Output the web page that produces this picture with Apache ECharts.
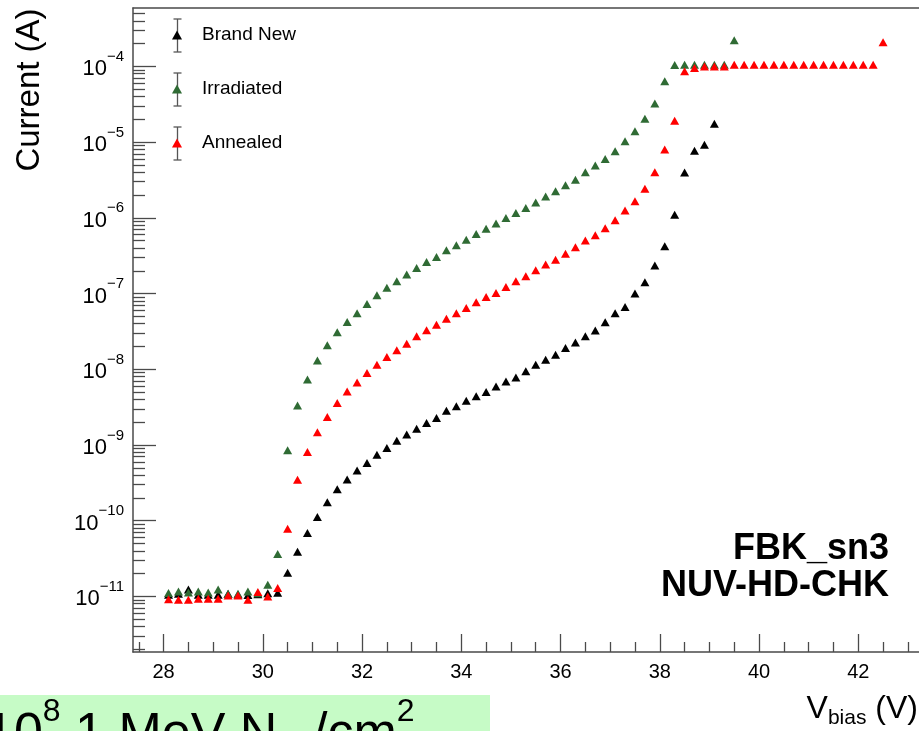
<!DOCTYPE html>
<html><head><meta charset="utf-8">
<script src="https://cdn.jsdelivr.net/npm/echarts@6/dist/echarts.min.js"></script>
<style>html,body{margin:0;padding:0;background:#fff}#c{width:919px;height:731px}</style>
</head><body><div id="c"></div>
<script>
// ---- data (bias voltage in V, current in A) ----
const voltages = [28.1,28.3,28.5,28.7,28.9,29.1,29.3,29.5,29.7,29.9,30.1,30.3,30.5,30.7,30.9,31.1,31.3,31.5,31.7,31.9,
  32.1,32.3,32.5,32.7,32.9,33.1,33.3,33.5,33.7,33.9,34.1,34.3,34.5,34.7,34.9,35.1,35.3,35.5,35.7,35.9,
  36.1,36.3,36.5,36.7,36.9,37.1,37.3,37.5,37.7,37.9,38.1,38.3,38.5,38.7,38.9,39.1,39.3,39.5,39.7,39.9,
  40.1,40.3,40.5,40.7,40.9,41.1,41.3,41.5,41.7,41.9,42.1,42.3,42.5];
const brandNew = [1.05e-11,1.08e-11,1.23e-11,1.05e-11,1.05e-11,1.05e-11,1.08e-11,1.06e-11,1.04e-11,1.07e-11,1.10e-11,1.12e-11,
  2.06e-11,3.9e-11,6.9e-11,1.12e-10,1.75e-10,2.6e-10,3.5e-10,4.6e-10,5.8e-10,7.4e-10,9.1e-10,1.14e-9,1.37e-9,1.64e-9,1.95e-9,
  2.27e-9,2.84e-9,3.24e-9,3.85e-9,4.39e-9,5.0e-9,5.9e-9,6.9e-9,7.8e-9,9.4e-9,1.15e-8,1.34e-8,1.56e-8,1.91e-8,2.26e-8,2.72e-8,
  3.24e-8,4.17e-8,5.5e-8,6.65e-8,9.98e-8,1.41e-7,2.34e-7,4.2e-7,1.10e-6,3.98e-6,7.7e-6,9.2e-6,1.75e-5];
const irradiated = [1.11e-11,1.16e-11,1.13e-11,1.16e-11,1.13e-11,1.23e-11,1.08e-11,1.08e-11,1.16e-11,1.10e-11,1.43e-11,3.63e-11,
  8.5e-10,3.33e-9,7.3e-9,1.31e-8,2.07e-8,3.08e-8,4.22e-8,5.5e-8,7.3e-8,9.5e-8,1.19e-7,1.45e-7,1.78e-7,2.18e-7,2.61e-7,3.04e-7,
  3.72e-7,4.33e-7,5.15e-7,6.1e-7,7.2e-7,8.4e-7,9.97e-7,1.16e-6,1.35e-6,1.60e-6,1.92e-6,2.24e-6,2.69e-6,3.19e-6,3.99e-6,4.9e-6,
  6.0e-6,7.6e-6,1.03e-5,1.39e-5,2.04e-5,3.23e-5,6.35e-5,1.04e-4,1.05e-4,1.05e-4,1.05e-4,1.05e-4,1.05e-4,2.21e-4];
const annealed = [9.2e-12,9.0e-12,9.0e-12,9.3e-12,9.3e-12,9.3e-12,1.03e-11,1.03e-11,9.0e-12,1.14e-11,1.0e-11,1.29e-11,
  7.8e-11,3.48e-10,8.1e-10,1.47e-9,2.34e-9,3.59e-9,5.1e-9,6.7e-9,8.9e-9,1.15e-8,1.45e-8,1.78e-8,2.18e-8,2.72e-8,3.27e-8,3.88e-8,
  4.66e-8,5.5e-8,6.45e-8,7.66e-8,9.0e-8,1.02e-7,1.22e-7,1.45e-7,1.69e-7,2.03e-7,2.41e-7,2.8e-7,3.36e-7,4.1e-7,5.0e-7,5.9e-7,
  7.3e-7,9.3e-7,1.25e-6,1.65e-6,2.43e-6,3.99e-6,7.96e-6,1.92e-5,8.6e-5,9.55e-5,1.0e-4,1.0e-4,1.0e-4,1.05e-4,
  1.05e-4,1.05e-4,1.05e-4,1.05e-4,1.05e-4,1.05e-4,1.05e-4,1.05e-4,1.05e-4,1.05e-4,1.05e-4,1.05e-4,1.05e-4,1.05e-4,2.08e-4];
const seriesNames = ['Brand New', 'Irradiated', 'Annealed'];
const seriesColors = ['#000000', '#2f6b34', '#ff0000'];
const xMajorTicks = [28, 30, 32, 34, 36, 38, 40, 42];
const xMinorTicks = [27.5,28.5,29,29.5,30.5,31,31.5,32.5,33,33.5,34.5,35,35.5,36.5,37,37.5,38.5,39,39.5,40.5,41,41.5,42.5,43];
const yDecades = [-11, -10, -9, -8, -7, -6, -5, -4];
const deviceLabel = ['FBK_sn3', 'NUV-HD-CHK'];

// ---- layout / style ----
const FONT = '"Liberation Sans", Arial, Helvetica, sans-serif';
const X_MIN = 27.384, X_MAX = 43.224;
const Y_MIN_EXP = -11.7344, Y_MAX_EXP = -3.2286;
const AX = '#4a4a4a';

const yMinorTicks = [];
for (let n = -12; n <= -3; n++) for (let k = 2; k <= 9; k++) {
  const v = n + Math.log10(k);
  if (v > Y_MIN_EXP && v < Y_MAX_EXP) yMinorTicks.push(v);
}

const allSeries = [brandNew, irradiated, annealed];
const series = allSeries.map((vals, i) => ({
  name: seriesNames[i], type: 'scatter', xAxisIndex: 0, yAxisIndex: 0,
  symbol: 'triangle', symbolSize: [9, 8],
  itemStyle: { color: seriesColors[i], opacity: 1 },
  data: vals.map((c, j) => [voltages[j], c])
}));

const legendRows = [35, 89, 143];
const graphic = [];
legendRows.forEach(yc => {
  graphic.push({ type: 'line', z: 1, shape: { x1: 177.5, y1: yc - 16, x2: 177.5, y2: yc + 17 }, style: { stroke: '#555', lineWidth: 1.3 } });
  graphic.push({ type: 'line', z: 1, shape: { x1: 173.5, y1: yc - 16, x2: 181.5, y2: yc - 16 }, style: { stroke: '#555', lineWidth: 1.3 } });
  graphic.push({ type: 'line', z: 1, shape: { x1: 173.5, y1: yc + 17, x2: 181.5, y2: yc + 17 }, style: { stroke: '#555', lineWidth: 1.3 } });
});
graphic.push({ type: 'text', x: 30, y: 90, rotation: Math.PI / 2,
  style: { text: 'Current (A)', font: '33px ' + FONT, fill: '#000', align: 'center', verticalAlign: 'middle' } });
graphic.push({ type: 'text', x: 889, y: 549,
  style: { text: deviceLabel[0], font: 'bold 36px ' + FONT, fill: '#000', align: 'right', verticalAlign: 'middle' } });
graphic.push({ type: 'text', x: 889, y: 586,
  style: { text: deviceLabel[1], font: 'bold 36px ' + FONT, fill: '#000', align: 'right', verticalAlign: 'middle' } });
graphic.push({ type: 'text', x: 918, y: 709,
  style: { text: '{m|V}{s|bias}{m| (V)}', align: 'right', verticalAlign: 'middle',
    rich: { m: { fontSize: 32, fontFamily: FONT, fill: '#000' }, s: { fontSize: 21, fontFamily: FONT, fill: '#000', padding: [18, 0, 0, 0] } } } });
graphic.push({ type: 'rect', z: 2, shape: { x: 0, y: 695, width: 490, height: 40 }, style: { fill: '#c6fbc6' } });
graphic.push({ type: 'text', z: 3, x: -15, y: 735,
  style: { text: '{n|10}{p|8}{n| 1 MeV N}{b|eq}{n|/cm}{p|2}', align: 'left', verticalAlign: 'middle',
    rich: { n: { fontSize: 52, fontFamily: FONT, fill: '#000' },
            p: { fontSize: 32, fontFamily: FONT, fill: '#000', padding: [0, 0, 46, 0] },
            b: { fontSize: 32, fontFamily: FONT, fill: '#000', padding: [30, 0, 0, 0] } } } });

const option = {
  animation: false,
  backgroundColor: '#fff',
  grid: { left: 133, top: 8, right: 0, bottom: 79, show: false },
  legend: {
    orient: 'vertical', left: 172, top: 25, padding: 0, itemWidth: 10, itemHeight: 9, itemGap: 34,
    icon: 'triangle', data: seriesNames, selectedMode: false,
    textStyle: { fontSize: 19, fontFamily: FONT, color: '#000', lineHeight: 20, padding: [0, 0, 0, 15] }
  },
  xAxis: [
    { type: 'value', min: X_MIN, max: X_MAX, position: 'bottom',
      axisLine: { show: true, onZero: false, lineStyle: { color: AX, width: 1.5 } },
      axisTick: { show: true, inside: true, length: 18, customValues: xMajorTicks, lineStyle: { color: AX, width: 1.3 } },
      axisLabel: { show: true, customValues: xMajorTicks, margin: 10, fontSize: 20, color: '#000', fontFamily: FONT },
      splitLine: { show: false } },
    { type: 'value', min: X_MIN, max: X_MAX, position: 'bottom',
      axisLine: { show: false, onZero: false },
      axisTick: { show: true, inside: true, length: 10, customValues: xMinorTicks, lineStyle: { color: AX, width: 1.3 } },
      axisLabel: { show: false }, splitLine: { show: false } },
    { type: 'value', min: X_MIN, max: X_MAX, position: 'top',
      axisLine: { show: true, onZero: false, lineStyle: { color: AX, width: 1.5 } },
      axisTick: { show: false }, axisLabel: { show: false }, splitLine: { show: false } }
  ],
  yAxis: [
    { type: 'log', min: Math.pow(10, Y_MIN_EXP), max: Math.pow(10, Y_MAX_EXP), position: 'left',
      axisLine: { show: true, onZero: false, lineStyle: { color: AX, width: 1.5 } },
      axisTick: { show: false }, axisLabel: { show: false }, splitLine: { show: false }, minorTick: { show: false } },
    { type: 'value', min: Y_MIN_EXP, max: Y_MAX_EXP, position: 'left',
      axisLine: { show: false, onZero: false },
      axisTick: { show: true, inside: true, length: 23, customValues: yDecades, lineStyle: { color: AX, width: 1.3 } },
      axisLabel: { show: true, customValues: yDecades, margin: 9,
        formatter: v => '{n|10}{s|\u2212' + Math.abs(Math.round(v)) + '}',
        rich: { n: { fontSize: 22, fontFamily: FONT, color: '#000', padding: [6, 0, 0, 0] },
                s: { fontSize: 15, fontFamily: FONT, color: '#000', padding: [0, 0, 19, 0] } } },
      splitLine: { show: false } },
    { type: 'value', min: Y_MIN_EXP, max: Y_MAX_EXP, position: 'left',
      axisLine: { show: false, onZero: false },
      axisTick: { show: true, inside: true, length: 12, customValues: yMinorTicks, lineStyle: { color: AX, width: 1.3 } },
      axisLabel: { show: false }, splitLine: { show: false } }
  ],
  graphic: graphic,
  series: series
};
const chart = echarts.init(document.getElementById('c'), null, { renderer: 'canvas' });
chart.setOption(option);
</script></body></html>
